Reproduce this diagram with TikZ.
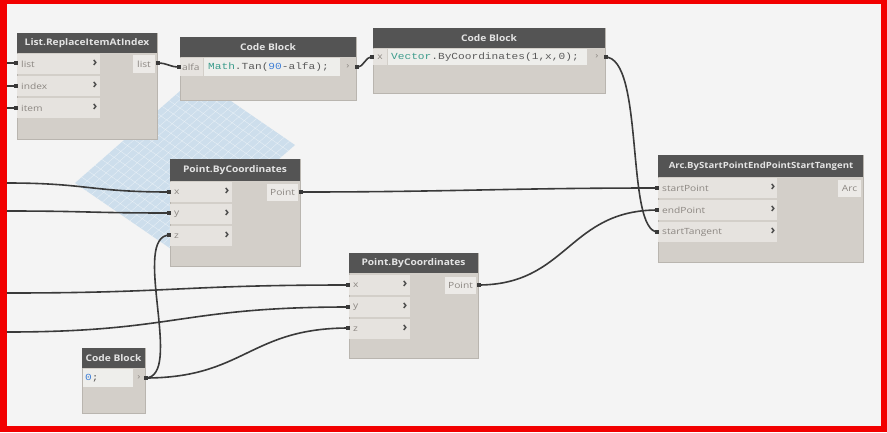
\documentclass[tikz,border=0pt]{standalone}
\usepackage{fontspec}
\setmainfont{Open Sans}
\newfontfamily\hdrfont[FakeStretch=1.12]{Open Sans}
\newfontfamily\lblfont[FakeStretch=1.2]{Open Sans}
\newfontfamily\codefont[FakeStretch=1.2]{Liberation Mono}
\usetikzlibrary{calc}
\definecolor{framec}{HTML}{F20000}
\definecolor{bgc}{HTML}{F4F4F4}
\definecolor{headc}{HTML}{545454}
\definecolor{bodyc}{HTML}{D3CFC9}
\definecolor{edgec}{HTML}{B9B5AF}
\definecolor{portc}{HTML}{E6E3DF}
\definecolor{outc}{HTML}{ECEAE7}
\definecolor{codec}{HTML}{EEEEEB}
\definecolor{wirec}{HTML}{3A3A3A}
\definecolor{lblc}{HTML}{8C8782}
\definecolor{chevc}{HTML}{4A4A4A}
\definecolor{diac}{HTML}{C4D9EA}
\definecolor{keyc}{HTML}{3C9C8C}
\definecolor{numc}{HTML}{3F7FD6}
\definecolor{txtc}{HTML}{5A5A5A}
\definecolor{htc}{HTML}{E4E4E4}
\tikzset{
  dbody/.style={fill=bodyc, draw=edgec, line width=0.6pt, anchor=north west, inner sep=0pt, outer sep=0pt},
  htext/.style={text=htc, inner sep=0pt, font=\hdrfont\bfseries\fontsize{9.1}{10}\selectfont},
  plabel/.style={text=lblc, inner sep=0pt, font=\lblfont\fontsize{8.5}{10}\selectfont},
  chev/.style={text=chevc, inner sep=0pt, font=\bfseries\fontsize{13}{13}\selectfont},
  ctext/.style={text=txtc, inner sep=0pt, anchor=west, font=\codefont\fontsize{9.3}{10}\selectfont},
  wire/.style={draw=wirec, line width=1.6pt},
  gridl/.style={draw=white, line width=0.35pt, opacity=0.55}
}
\newcommand\dynin[6]{%
  \fill[portc] (#2,{#4-10}) rectangle (#3,{#4+10});
  \node[plabel, anchor=west] (#1) at ({#2+4},#4) {#5};
  \node[chev] (#1c) at (#6,{#4-0.5}) {›};
}
\begin{document}
\begin{tikzpicture}[x=1pt,y=-1pt]
\useasboundingbox (0,0) rectangle (887,432);
\fill[framec] (0,0) rectangle (887,432);
\fill[bgc] (7,4) rectangle (881,426);
% ports and free wire ends
\coordinate (e1) at (7,63);
\coordinate (e2) at (7,86);
\coordinate (e3) at (7,108);
\coordinate (e4) at (7,183);
\coordinate (e5) at (7,211);
\coordinate (e6) at (7,293);
\coordinate (e7) at (7,332);
\coordinate (lrA) at (17,63);
\coordinate (lrB) at (17,86);
\coordinate (lrC) at (17,108);
\coordinate (lrO) at (157,63);
\coordinate (cbAi) at (180,67);
\coordinate (cbAo) at (356,67);
\coordinate (cbBi) at (373,57);
\coordinate (cbBo) at (605,57);
\coordinate (paX) at (170,192);
\coordinate (paY) at (170,213);
\coordinate (paZ) at (170,235);
\coordinate (paO) at (300,192);
\coordinate (pbX) at (349,285);
\coordinate (pbY) at (349,307);
\coordinate (pbZ) at (349,328);
\coordinate (pbO) at (478,285);
\coordinate (arS) at (658,188);
\coordinate (arE) at (658,210);
\coordinate (arT) at (658,232);
\coordinate (cbCo) at (145,378);
% blue grid diamond
\coordinate (dL) at (75,183);
\coordinate (dT) at (196,77);
\coordinate (dR) at (295,145);
\coordinate (dB) at (174,251);
\fill[diac, opacity=0.8] (dL) -- (dT) -- (dR) -- (dB) -- cycle;
\foreach \i in {1,...,17} {
  \draw[gridl] ($(dL)!{\i/18}!(dB)$) -- ($(dT)!{\i/18}!(dR)$);
  \draw[gridl] ($(dL)!{\i/18}!(dT)$) -- ($(dB)!{\i/18}!(dR)$);
}
% wires
\draw[wire] (e1) -- (lrA);
\draw[wire] (e2) -- (lrB);
\draw[wire] (e3) -- (lrC);
\draw[wire] (lrO) .. controls +(12,0) and +(-12,0) .. (cbAi);
\draw[wire] (cbAo) .. controls +(10,0) and +(-10,0) .. (cbBi);
\draw[wire] (cbBo) .. controls +(40,0) and +(-33,0) .. (arT);
\draw[wire] (pbO) .. controls +(90,0) and +(-90,0) .. (arE);
\draw[wire] (paO) .. controls +(150,0) and +(-150,0) .. (arS);
\draw[wire] (e4) .. controls +(80,0) and +(-80,0) .. (paX);
\draw[wire] (e5) .. controls +(80,0) and +(-80,0) .. (paY);
\draw[wire] (e6) .. controls +(170,0) and +(-170,0) .. (pbX);
\draw[wire] (e7) .. controls +(170,0) and +(-170,0) .. (pbY);
\draw[wire] (cbCo) .. controls +(100,0) and +(-100,0) .. (pbZ);
\draw[wire] (cbCo) .. controls +(40,0) and +(-40,0) .. (paZ);
% ---- List.ReplaceItemAtIndex
\node[dbody, minimum width=140pt, minimum height=106pt] (lr) at (17,33) {};
\fill[headc] (17,33) rectangle (157,53);
\node[htext] (lrh) at (87,43) {List.ReplaceItemAtIndex};
\dynin{lrl1}{17}{100}{64}{list}{95}
\dynin{lrl2}{17}{100}{86}{index}{95}
\dynin{lrl3}{17}{100}{108}{item}{95}
\fill[outc] (133,55) rectangle (155,73);
\node[plabel] (lrout) at (144,64) {list};
% ---- Code Block 1
\node[dbody, minimum width=176pt, minimum height=63pt] (cbA) at (180,37) {};
\fill[headc] (180,37) rectangle (356,57);
\node[htext] (cbAh) at (268,47) {Code Block};
\fill[portc] (180,58) rectangle (203,76);
\node[plabel, anchor=west] (cbAin) at (182,67) {alfa};
\fill[codec] (204,58) rectangle (340,76);
\node[ctext] (cbAc) at (208,67) {{\color{keyc}Math}.Tan({\color{numc}90}-alfa);};
\node[plabel] (cbAout) at (348,67) {›};
% ---- Code Block 2
\node[dbody, minimum width=232pt, minimum height=65pt] (cbB) at (373,28) {};
\fill[headc] (373,28) rectangle (605,48);
\node[htext] (cbBh) at (489,38) {Code Block};
\fill[portc] (373,49) rectangle (387,65);
\node[plabel] (cbBin) at (380,57) {x};
\fill[codec] (388,49) rectangle (587,65);
\node[ctext] (cbBc) at (391,57) {{\color{keyc}Vector}.ByCoordinates(1,x,0);};
\node[plabel] (cbBout) at (597,57) {›};
% ---- Point.ByCoordinates 1
\node[dbody, minimum width=130pt, minimum height=107pt] (pa) at (170,159) {};
\fill[headc] (170,159) rectangle (300,181);
\node[htext] (pah) at (235,170) {Point.ByCoordinates};
\dynin{pal1}{170}{232}{192}{x}{227}
\dynin{pal2}{170}{232}{214}{y}{227}
\dynin{pal3}{170}{232}{236}{z}{227}
\fill[outc] (267,184) rectangle (298,201);
\node[plabel] (paout) at (282.5,192) {Point};
% ---- Point.ByCoordinates 2
\node[dbody, minimum width=129pt, minimum height=105pt] (pb) at (349,253) {};
\fill[headc] (349,253) rectangle (478,273);
\node[htext] (pbh) at (413.5,263) {Point.ByCoordinates};
\dynin{pbl1}{349}{410}{285}{x}{405}
\dynin{pbl2}{349}{410}{307}{y}{405}
\dynin{pbl3}{349}{410}{329}{z}{405}
\fill[outc] (445,277) rectangle (476,294);
\node[plabel] (pbout) at (460.5,285) {Point};
% ---- Arc.ByStartPointEndPointStartTangent
\node[dbody, minimum width=205pt, minimum height=107pt] (ar) at (658,155) {};
\fill[headc] (658,155) rectangle (863,177);
\node[htext, font=\hdrfont\bfseries\fontsize{8.55}{10}\selectfont] (arh) at (761,166) {Arc.ByStartPointEndPointStartTangent};
\dynin{arl1}{658}{777}{188}{startPoint}{773}
\dynin{arl2}{658}{777}{210}{endPoint}{773}
\dynin{arl3}{658}{777}{232}{startTangent}{773}
\fill[outc] (838,180) rectangle (861,197);
\node[plabel] (arout) at (849.5,188) {Arc};
% ---- Code Block 3
\node[dbody, minimum width=63pt, minimum height=65pt] (cbC) at (82,348) {};
\fill[headc] (82,348) rectangle (145,368);
\node[htext] (cbCh) at (113.5,358) {Code Block};
\fill[codec] (83,369) rectangle (133,387);
\node[ctext] (cbCc) at (85,378) {{\color{numc}0};};
\node[plabel] (cbCout) at (139,378) {›};
% connector stubs
\foreach \p in {lrA,lrB,lrC,cbAi,cbBi,paX,paY,paZ,pbX,pbY,pbZ,arS,arE,arT} {
  \fill[wirec] ($(\p)+(-3,-2.2)$) rectangle ($(\p)+(1,2.2)$);
}
\foreach \p in {lrO,cbAo,cbBo,paO,pbO,cbCo} {
  \fill[wirec] ($(\p)+(-1,-2.2)$) rectangle ($(\p)+(3,2.2)$);
}
\end{tikzpicture}
\end{document}
